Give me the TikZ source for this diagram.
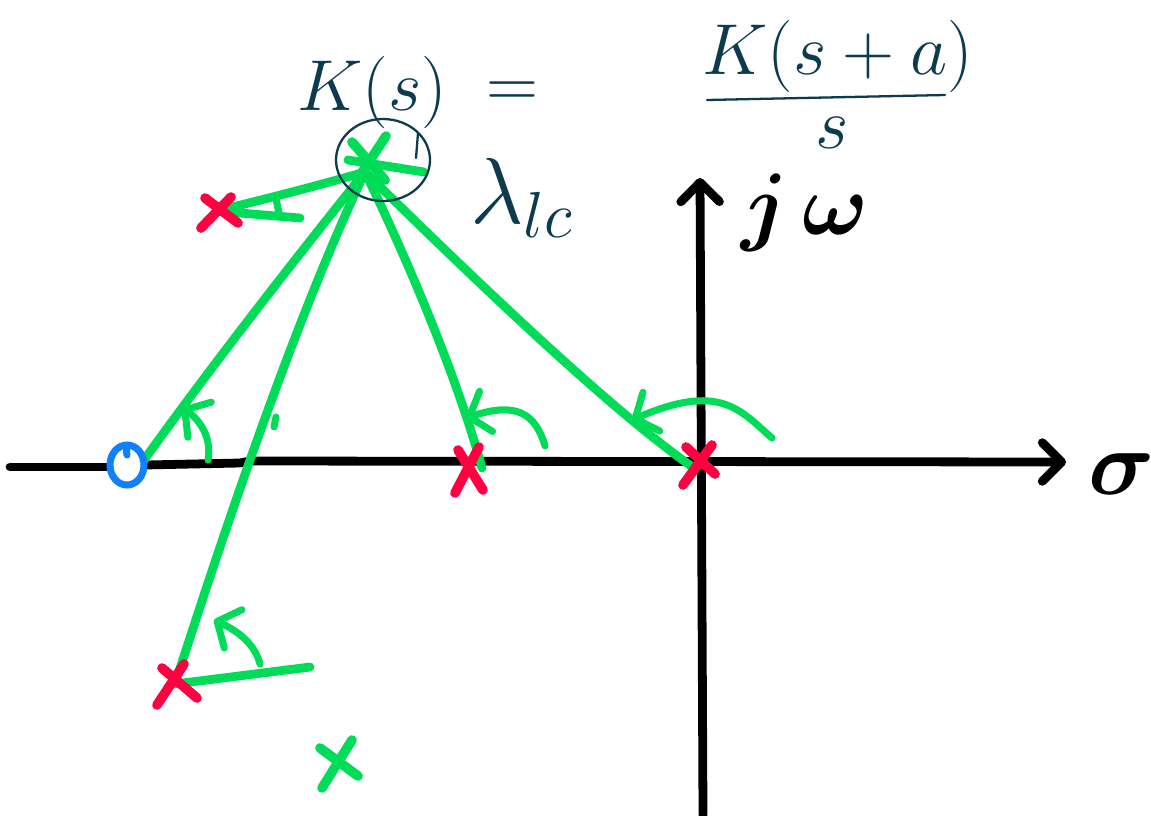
\documentclass[tikz,border=0pt]{standalone}
\usepackage{bm}
\usetikzlibrary{arrows.meta}
\definecolor{gr}{RGB}{0,220,88}
\definecolor{rd}{RGB}{255,0,64}
\definecolor{bl}{RGB}{16,128,255}
\definecolor{tl}{RGB}{12,58,78}
\tikzset{
  axisline/.style={line width=5pt,black,line cap=round,line join=round},
  axisarrow/.style={axisline,-{Straight Barb[length=11pt,width=22pt,round]}},
  gline/.style={line width=5pt,gr,line cap=round,line join=round},
  garc/.style={line width=4pt,gr,line cap=round,-{Straight Barb[length=10pt,width=24pt,round]}},
  gtick/.style={line width=4pt,gr,line cap=round},
  polex/.style={line width=5.5pt,rd,line cap=round},
  testx/.style={line width=5.5pt,gr,line cap=round},
  zerox/.style={line width=4pt,bl},
  hand/.style={tl,inner sep=0pt,font=\huge,scale=1.98},
  thinpen/.style={tl,line width=1.3pt,line cap=round},
  blk/.style={black,inner sep=0pt,font=\huge,scale=2.4}
}
\begin{document}
\begin{tikzpicture}[x=0.02cm,y=-0.02cm]
\useasboundingbox (0,0) rectangle (1151,815);
\fill[white] (0,0) rectangle (1151,815);
% --- coordinates
\coordinate (T) at (365,172);
\coordinate (Z) at (127,465);
\coordinate (Zs) at (144,460);
\coordinate (P1) at (216,211);
\coordinate (P2) at (468,470);
\coordinate (P2s) at (482,468);
\coordinate (P3) at (698,464);
\coordinate (P3s) at (694,468);
\coordinate (P4) at (175,684);
\coordinate (G) at (339,763);
\coordinate (xl) at (10,467);
\coordinate (zl) at (109,467);
\coordinate (zr) at (145,465);
\coordinate (xm) at (240,463);
\coordinate (xr) at (1066,462);
\coordinate (yb) at (703,815);
\coordinate (yt) at (700,178);
% --- axes
\draw[axisline] (xl) -- (zl);
\draw[axisline] (zr) -- (xm) -- (250,461);
\draw[axisarrow] (250,461) -- (xr);
\draw[axisarrow] (yb) -- (yt);
% --- green vectors from poles/zero to test point
\draw[gline] (Zs) .. controls (205,375) and (290,265) .. (T);
\draw[gline] (P4) .. controls (215,560) and (290,330) .. (T);
\draw[gline] (P2s) .. controls (458,380) and (410,265) .. (T);
\draw[gline] (P3s) .. controls (610,410) and (470,275) .. (T);
\draw[gline] (P1) .. controls (270,198) and (320,185) .. (T);
\draw[gline] (P1) -- (300,218);
\draw[gline] (P4) -- (310,667);
% --- angle arcs
\draw[garc] (208,460) .. controls (212,438) and (200,420) .. (182,408);
\draw[garc] (545,446) .. controls (535,412) and (515,402) .. (466,418);
\draw[garc] (772,438) .. controls (740,410) and (720,382) .. (632,420);
\draw[garc] (260,664) .. controls (255,645) and (240,632) .. (214,620);
\draw[gtick] (276,199) -- (279,213);
\draw[gtick] (276,417) -- (274,427);
% --- test point
\draw[testx] (352,142) -- (385,180);
\draw[testx] (386,136) -- (357,180);
\draw[gline] (348,160) -- (424,172);
\draw[thinpen] (383,160) ellipse [x radius=47, y radius=41];
\draw[thinpen] (418,133) -- (416,158);
% --- poles
\draw[polex] (P1) ++(-15,17) -- ++(30,-31);
\draw[polex] (P1) ++(-11,-13) -- ++(33,25);
\draw[polex] (P2) ++(-13,23) -- ++(24,-46);
\draw[polex] (P2) ++(-10,-20) -- ++(25,40);
\draw[polex] (P3) ++(-15,21) -- ++(29,-40);
\draw[polex] (P3) ++(-12,-17) -- ++(29,27);
\draw[polex] (P4) ++(-18,21) -- ++(27,-41);
\draw[polex] (P4) ++(-13,-16) -- ++(35,30);
\draw[testx] (G) ++(-17,25) -- ++(30,-48);
\draw[testx] (G) ++(-19,-15) -- ++(38,28);
% --- zero
\draw[zerox] (Z) ellipse [x radius=17, y radius=20];
\draw[zerox,line cap=round] (126,446) -- (127,455);
% --- labels
\node[hand] (lhs) at (372,92) {$K(s)$};
\node[hand] (eq) at (512,95) {$=$};
\node[hand] (num) at (838,56) {$K(s+a)$};
\coordinate (fl) at (707,100);
\coordinate (fr) at (945,95);
\draw[thinpen] (fl) -- (fr);
\node[hand] (den) at (832,133) {$s$};
\node[hand,scale=1.3] (lam) at (522,198) {$\lambda_{lc}$};
\node[blk] (jw) at (805,213) {$\bm{j\,\omega}$};
\node[blk,scale=1.05] (sig) at (1122,474) {$\bm{\sigma}$};
\end{tikzpicture}
\end{document}
